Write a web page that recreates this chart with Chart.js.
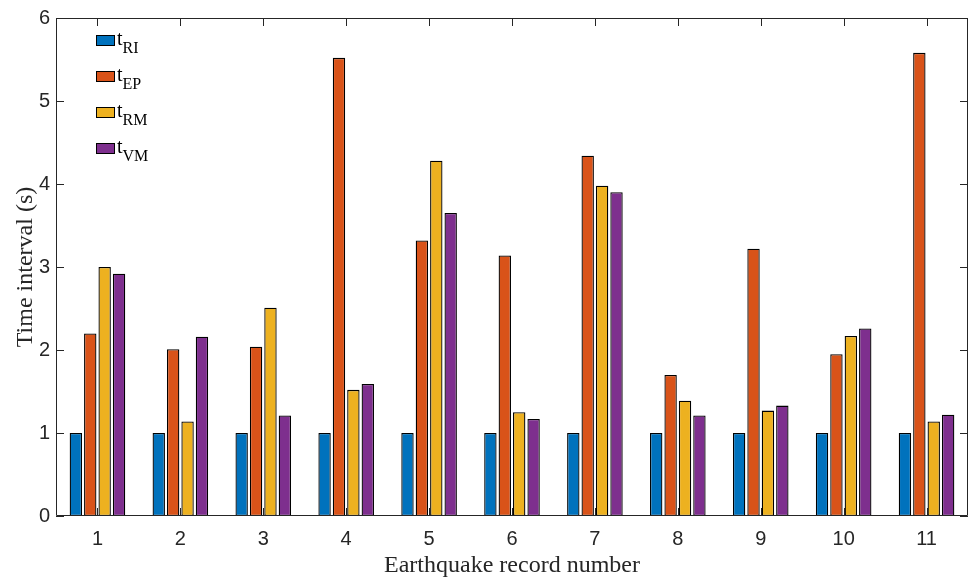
<!DOCTYPE html>
<html>
<head>
<meta charset="utf-8">
<title>Time interval</title>
<script src="https://cdn.jsdelivr.net/npm/chart.js@4.4.1/dist/chart.umd.min.js"></script>
<style>
	html, body { margin: 0; padding: 0; background: #fff; }
	#wrap { width: 970px; height: 581px; position: relative; }
</style>
</head>
<body>
<div id="wrap"><canvas id="myChart"></canvas></div>
<script>
var records = ['1', '2', '3', '4', '5', '6', '7', '8', '9', '10', '11'];
var yTicks = [0, 1, 2, 3, 4, 5, 6];

var tRI = [1, 1, 1, 1, 1, 1, 1, 1, 1, 1, 1];
var tEP = [2.20, 2.01, 2.04, 5.52, 3.32, 3.14, 4.34, 1.70, 3.22, 1.95, 5.58];
var tRM = [3.00, 1.14, 2.51, 1.52, 4.28, 1.25, 3.98, 1.39, 1.27, 2.17, 1.14];
var tVM = [2.92, 2.16, 1.21, 1.59, 3.65, 1.17, 3.90, 1.21, 1.33, 2.26, 1.22];

// legend text is "t" with a subscript
var seriesSub = ['RI', 'EP', 'RM', 'VM'];
var colors = ['#0072BD', '#D95319', '#EDB120', '#7E2F8E'];

var axisColor = '#262626';
var sans = '"Liberation Sans", Arial, sans-serif';
var serif = '"Liberation Serif", "Times New Roman", serif';

var datasets = [tRI, tEP, tRM, tVM].map(function(vals, i){
	return {
		label: 't' + seriesSub[i],
		data: vals,
		backgroundColor: colors[i],
		borderColor: '#000',
		borderWidth: 1.3,
		borderSkipped: false,
		categoryPercentage: 0.695,
		barPercentage: 0.86
	};
});

// box around the axes with ticks pointing inwards, like matlab
var framePlugin = {
	id: 'frame',
	afterDatasetsDraw: function(chart){
		var c = chart.ctx, a = chart.chartArea;
		var x = chart.scales.x, y = chart.scales.y;
		var len = 8;
		c.save();
		c.strokeStyle = axisColor;
		c.lineWidth = 1;
		c.beginPath();
		c.rect(a.left + 0.5, a.top + 0.5, a.right - a.left - 1, a.bottom - a.top - 1);
		yTicks.forEach(function(v){
			var py = Math.round(y.getPixelForValue(v)) + 0.5;
			c.moveTo(a.left, py); c.lineTo(a.left + len, py);
			c.moveTo(a.right, py); c.lineTo(a.right - len, py);
		});
		records.forEach(function(r, i){
			var px = Math.round(x.getPixelForValue(i)) + 0.5;
			c.moveTo(px, a.bottom); c.lineTo(px, a.bottom - len);
			c.moveTo(px, a.top); c.lineTo(px, a.top + len);
		});
		c.stroke();
		c.restore();
	}
};

var subLegend = {
	id: 'subLegend',
	afterDraw: function(chart){
		var c = chart.ctx;
		var x0 = 96, y0 = 35, rowH = 36;
		c.save();
		chart.data.datasets.forEach(function(ds, i){
			var top = y0 + i * rowH;
			c.fillStyle = ds.backgroundColor;
			c.fillRect(x0, top, 19, 11);
			c.strokeStyle = '#000';
			c.lineWidth = 1;
			c.strokeRect(x0 + 0.5, top + 0.5, 18, 10);

			c.fillStyle = '#000';
			c.textBaseline = 'alphabetic';
			c.textAlign = 'left';
			c.font = '20px ' + serif;
			c.fillText('t', x0 + 21, top + 10);
			var w = c.measureText('t').width;
			c.font = '16px ' + serif;
			c.fillText(seriesSub[i], x0 + 21 + w, top + 18);
		});
		c.restore();
	}
};

var ctx = document.getElementById('myChart');
var myChart = new Chart(ctx, {
	type: 'bar',
	data: {
		labels: records,
		datasets: datasets
	},
	options: {
		responsive: true,
		maintainAspectRatio: false,
		animation: false,
		layout: { padding: { top: 16, right: 2, left: 0, bottom: 0 } },
		plugins: {
			legend: { display: false },
			tooltip: { enabled: false }
		},
		scales: {
			x: {
				grid: { display: false, drawTicks: false },
				border: { display: false },
				ticks: { color: axisColor, font: { family: sans, size: 20 }, padding: 11, maxRotation: 0 },
				title: {
					display: true,
					text: 'Earthquake record number',
					color: axisColor,
					font: { family: serif, size: 24 },
					padding: { top: 0, bottom: 1 }
				},
				afterFit: function(s){ s.height = 65; }
			},
			y: {
				min: 0,
				max: 6,
				grid: { display: false, drawTicks: false },
				border: { display: false },
				ticks: { stepSize: 1, color: axisColor, font: { family: sans, size: 20 }, padding: 6 },
				title: {
					display: true,
					text: 'Time interval (s)',
					color: axisColor,
					font: { family: serif, size: 24 },
					padding: { top: 11, bottom: 0 }
				},
				afterFit: function(s){ s.width = 56; }
			}
		}
	},
	plugins: [framePlugin, subLegend]
});
</script>
</body>
</html>
